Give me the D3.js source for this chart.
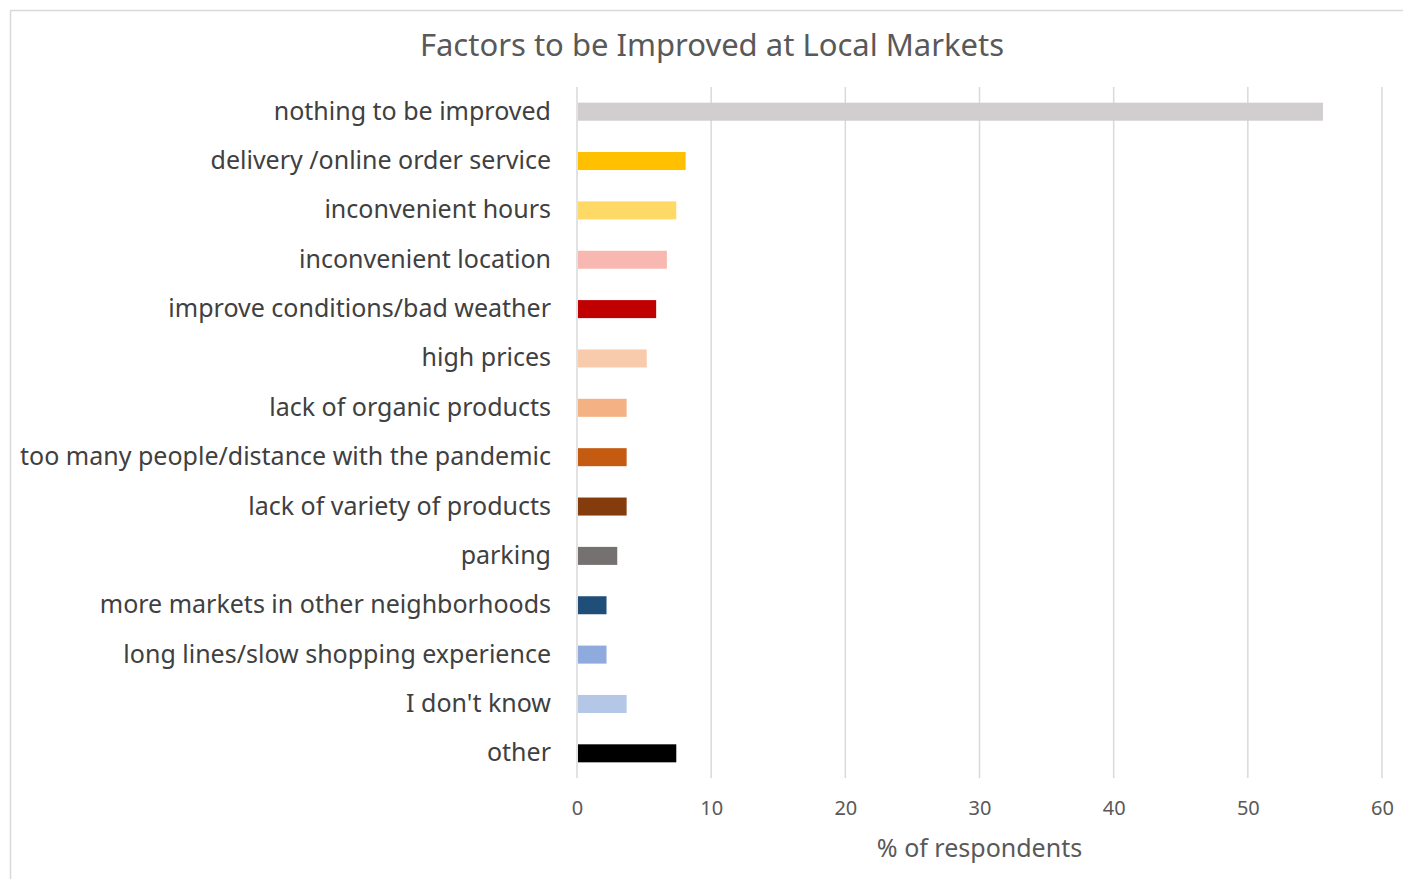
<!DOCTYPE html>
<html>
<head>
<meta charset="utf-8">
<script src="https://cdn.jsdelivr.net/npm/d3@7"></script>
<style>
  html, body { margin: 0; padding: 0; background: #fff; }
  svg { display: block; font-family: "Noto Sans", "Open Sans", sans-serif; }
</style>
</head>
<body>
<svg id="chart" width="1403" height="879"></svg>
<script>
// Survey answers: what respondents would improve at local markets
const categories = [
  "nothing to be improved",
  "delivery /online order service",
  "inconvenient hours",
  "inconvenient location",
  "improve conditions/bad weather",
  "high prices",
  "lack of organic products",
  "too many people/distance with the pandemic",
  "lack of variety of products",
  "parking",
  "more markets in other neighborhoods",
  "long lines/slow shopping experience",
  "I don't know",
  "other"
];
const values = [55.6, 8.1, 7.4, 6.7, 5.9, 5.2, 3.7, 3.7, 3.7, 3.0, 2.2, 2.2, 3.7, 7.4];
const barColors = [
  "#d0cece", "#ffc000", "#ffd966", "#f8b8b1", "#c00000", "#f8cbad", "#f4b183",
  "#c55a11", "#843c0c", "#767171", "#1f4e79", "#8faadc", "#b4c7e7", "#000000"
];
const xTicks = [0, 10, 20, 30, 40, 50, 60];

const svg = d3.select("#chart");
const fontStack = "'Noto Sans', 'Open Sans', sans-serif";

// Chart frame
svg.append("path")
  .attr("d", "M10.5,879 V10.5 H1403")
  .attr("fill", "none")
  .attr("stroke", "#d9d9d9")
  .attr("stroke-width", 1.5);

const plot = { left: 577, right: 1382, top: 87, bottom: 778 };

const x = d3.scaleLinear().domain([0, 60]).range([plot.left, plot.right]);
const y = d3.scaleBand().domain(categories).range([plot.top, plot.bottom]).paddingInner(0.635).paddingOuter(0.3175);

// Vertical gridlines
svg.append("g")
  .selectAll("line")
  .data(xTicks)
  .join("line")
  .attr("x1", d => x(d)).attr("x2", d => x(d))
  .attr("y1", plot.top).attr("y2", plot.bottom)
  .attr("stroke", "#d9d9d9")
  .attr("stroke-width", 1.5);

// Bars
svg.append("g")
  .selectAll("rect")
  .data(categories)
  .join("rect")
  .attr("x", x(0) + 1)
  .attr("y", d => y(d))
  .attr("width", (d, i) => x(values[i]) - x(0) - 1)
  .attr("height", y.bandwidth())
  .attr("fill", (d, i) => barColors[i]);

// Category axis (labels only)
const yAxis = svg.append("g")
  .attr("transform", `translate(${plot.left - 26},0)`)
  .call(d3.axisLeft(y).tickSize(0).tickPadding(0));
yAxis.select(".domain").remove();
yAxis.selectAll("text")
  .attr("fill", "#404040")
  .attr("font-size", 25)
  .attr("font-family", fontStack);

// Value axis (labels only)
const xAxis = svg.append("g")
  .attr("transform", `translate(0,${plot.bottom})`)
  .call(d3.axisBottom(x).tickValues(xTicks).tickSize(0).tickPadding(23));
xAxis.select(".domain").remove();
xAxis.selectAll("text")
  .attr("fill", "#595959")
  .attr("font-size", 20)
  .attr("font-family", fontStack);

// Axis title
svg.append("text")
  .attr("x", (plot.left + plot.right) / 2)
  .attr("y", 857)
  .attr("text-anchor", "middle")
  .attr("fill", "#595959")
  .attr("font-size", 25)
  .text("% of respondents");

// Chart title
svg.append("text")
  .attr("x", 712)
  .attr("y", 56)
  .attr("text-anchor", "middle")
  .attr("fill", "#595959")
  .attr("font-size", 31)
  .text("Factors to be Improved at Local Markets");
</script>
</body>
</html>
